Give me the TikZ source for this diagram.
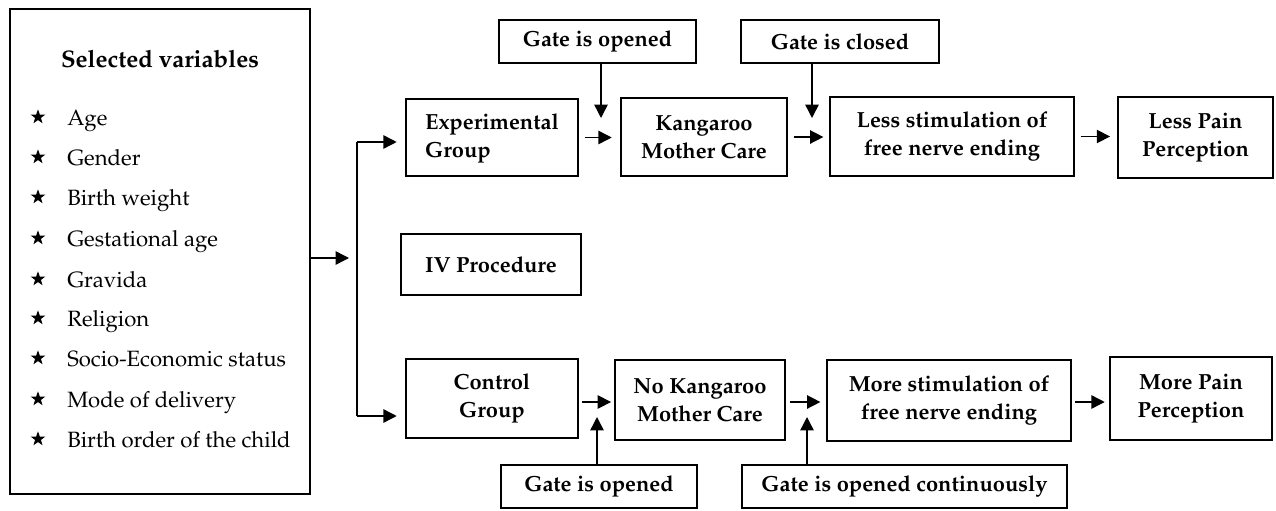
\documentclass[tikz,border=0pt]{standalone}
\usepackage[T1]{fontenc}
\usepackage{mathpazo}
\usetikzlibrary{arrows.meta,shapes.geometric}
\tikzset{
  box/.style 2 args={draw, line width=1.9pt, minimum width=#1*0.75pt, minimum height=#2*0.75pt,
    inner sep=0pt, align=center, font=\fontsize{16.4}{21}\selectfont\bfseries},
  item/.style={anchor=base west, inner sep=0pt, font=\fontsize{16.6}{20}\selectfont},
  bul/.style={star, star points=5, star point ratio=2.5, fill=black, inner sep=0pt, minimum size=11.5pt},
  conn/.style={line width=1.1pt},
  arr/.style={line width=1.1pt, -{Triangle[length=10pt,width=10pt]}},
}
\begin{document}
\begin{tikzpicture}[x=0.75pt, y=-0.75pt]
\useasboundingbox (0,0) rectangle (1276,510);
% left box
\node[box={300}{485}] (left) at (160,251.5) {};
\node[anchor=base, inner sep=0pt, font=\fontsize{18}{20}\selectfont\bfseries] (title) at (160,68) {Selected variables};
\foreach \t/\y [count=\i] in {Age/125, Gender/165, Birth weight/205, Gestational age/246, Gravida/287, Religion/326, Socio-Economic status/366, Mode of delivery/407, Birth order of the child/447}{
  \node[bul] (s\i) at (38,\y-8) {};
  \node[item] (v\i) at (67,\y) {\t};
}
% main nodes
\node[box={172}{77}] (exp) at (492,137.5) {\begin{tabular}{@{}l@{}}Experimental\\Group\end{tabular}};
\node[box={166}{78}] (kmc) at (704,137) {Kangaroo\\Mother Care};
\node[box={197}{43}] (go1) at (597.5,41.5) {Gate is opened};
\node[box={198}{43}] (gc) at (840,41.5) {Gate is closed};
\node[box={244}{79}] (ls) at (952,136.5) {Less stimulation of\\free nerve ending};
\node[box={155}{81}] (lp) at (1195.5,137.5) {Less Pain\\Perception};
\node[box={180}{61}] (iv) at (491,264.5) {IV Procedure};
\node[box={172}{79}] (ctl) at (492,398.5) {Control\\Group};
\node[box={170}{80}] (nk) at (700,400) {No Kangaroo\\Mother Care};
\node[box={196}{43}] (go2) at (599,486.5) {Gate is opened};
\node[box={325}{43}] (goc) at (904.5,486.5) {Gate is opened continuously};
\node[box={244}{81}] (ms) at (949,400.5) {More stimulation of\\free nerve ending};
\node[box={162}{83}] (mp) at (1191,398.5) {More Pain\\Perception};
% split connector
\coordinate (jm) at (349,258);
\coordinate (jt) at (357,142);
\coordinate (jb) at (357,416);
\draw[arr] (left.east |- jm) -- (jm);
\draw[conn] (jt) -- (jb);
\draw[arr, shorten >=6pt] (jt) -- (exp.west |- jt);
\draw[arr, shorten >=6pt] (jb) -- (ctl.west |- jb);
% top row
\draw[arr, shorten <=4pt, shorten >=6pt] (exp.east) -- (exp.east -| kmc.west);
\draw[arr, shorten <=4pt, shorten >=4pt] (kmc.east) -- (kmc.east -| ls.west);
\draw[arr, shorten <=4pt, shorten >=5pt] (ls.east) -- (ls.east -| lp.west);
\coordinate (t1) at (601,118);
\coordinate (t2) at (812,118);
\draw[arr] (go1.south -| t1) -- (t1);
\draw[arr] (gc.south -| t2) -- (t2);
% bottom row
\coordinate (r1) at (0,402);
\draw[arr, shorten <=2pt, shorten >=2pt] (ctl.east |- r1) -- (nk.west |- r1);
\draw[arr, shorten <=3pt, shorten >=4pt] (nk.east |- r1) -- (ms.west |- r1);
\draw[arr, shorten <=2pt, shorten >=3pt] (ms.east |- r1) -- (mp.west |- r1);
\coordinate (t3) at (597,417);
\coordinate (t4) at (807,417);
\draw[arr] (go2.north -| t3) -- (t3);
\draw[arr] (goc.north -| t4) -- (t4);
\end{tikzpicture}
\end{document}
